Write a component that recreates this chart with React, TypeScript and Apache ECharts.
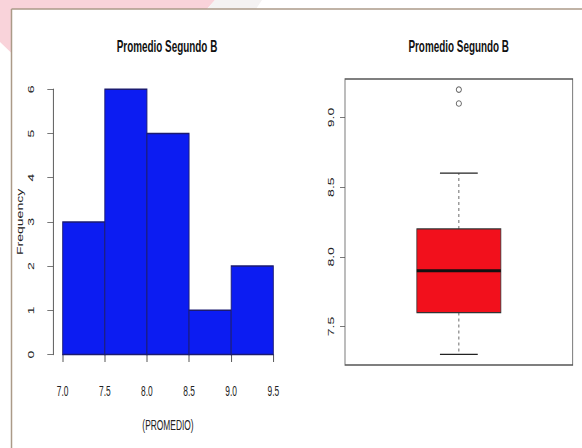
import React, { useEffect, useRef } from "react";
import * as echarts from "echarts";

// ---- data ----
const TITLE = "Promedio Segundo B";
const binEdges = [7.0, 7.5, 8.0, 8.5, 9.0, 9.5];
const frequencies = [3, 6, 5, 1, 2];
const histXLabel = "(PROMEDIO)";
const histYLabel = "Frequency";
const boxCategory = ["PROMEDIO"];
// min whisker, Q1, median, Q3, max whisker
const boxStats = [7.3, 7.6, 7.9, 8.2, 8.6];
const outliers = [9.1, 9.2];
const boxTicks = [7.5, 8.0, 8.5, 9.0];

// the reference picture is horizontally compressed; draw wide, then squeeze
const SX = 0.6;
const W = 582 / SX;
const H = 448;
const X = (v: number) => v / SX;
const FONT = "'Liberation Sans', Arial, Helvetica, sans-serif";

export default function App() {
  const ref = useRef<HTMLDivElement>(null);

  useEffect(() => {
    const chart = echarts.init(ref.current!, null, { renderer: "svg" });

    const histData = frequencies.map((f, i) => [binEdges[i], binEdges[i + 1], f]);
    const boxData = [[0, ...boxStats]];
    const outlierData = outliers.map((v) => [0, v]);

    const dMin = Math.min(boxStats[0], ...outliers);
    const dMax = Math.max(boxStats[4], ...outliers);
    const pad = 0.04 * (dMax - dMin);

    const titleStyle = { fontSize: 16.5, fontWeight: "bold", color: "#111", fontFamily: FONT };
    const labelColor = "#222";

    chart.setOption({
      animation: false,
      backgroundColor: "#ffffff",
      textStyle: { fontFamily: FONT },
      title: [
        { text: TITLE, left: X(167), top: 38, textAlign: "center", textVerticalAlign: "top", padding: 0, textStyle: titleStyle },
        { text: TITLE, left: X(458.7), top: 38, textAlign: "center", textVerticalAlign: "top", padding: 0, textStyle: titleStyle },
      ],
      grid: [
        { left: X(62.7), top: 89.3, width: X(273.3) - X(62.7), height: 354.5 - 89.3 },
        { left: X(345), top: 79, width: X(572.7) - X(345), height: 286, show: true, borderColor: "#555", borderWidth: 1.3, backgroundColor: "transparent" },
      ],
      xAxis: [
        {
          gridIndex: 0, type: "value", min: 7, max: 9.5, interval: 0.5, position: "bottom", offset: 10.7,
          axisLine: { show: true, lineStyle: { color: "#444", width: 1 } },
          axisTick: { show: true, length: 7.5, lineStyle: { color: "#444", width: 1.5 } },
          axisLabel: { fontSize: 14, color: labelColor, margin: 19, formatter: (v: number) => v.toFixed(1) },
          splitLine: { show: false },
          name: histXLabel, nameLocation: "middle", nameGap: 53,
          nameTextStyle: { fontSize: 14, color: labelColor },
        },
        { gridIndex: 1, type: "category", data: boxCategory, show: false },
      ],
      yAxis: [
        {
          gridIndex: 0, type: "value", min: 0, max: 6, interval: 1, offset: X(62.7) - X(53.3),
          axisLine: { show: true, lineStyle: { color: "#555", width: 1.6 } },
          axisTick: { show: true, length: 10, lineStyle: { color: "#555", width: 1 } },
          axisLabel: { rotate: 90, margin: 30, fontSize: 14, color: labelColor },
          splitLine: { show: false },
          name: histYLabel, nameLocation: "middle", nameRotate: 90, nameGap: 49,
          nameTextStyle: { fontSize: 14, color: labelColor },
        },
        {
          gridIndex: 1, type: "value", min: dMin - pad, max: dMax + pad,
          axisLine: { show: false },
          axisTick: { show: true, length: 8.3, customValues: boxTicks, lineStyle: { color: "#555", width: 1 } },
          axisLabel: { customValues: boxTicks, rotate: 90, margin: 15.7, fontSize: 14, color: labelColor, formatter: (v: number) => v.toFixed(1) },
          splitLine: { show: false },
        },
      ],
      series: [
        {
          type: "custom",
          xAxisIndex: 0, yAxisIndex: 0,
          data: histData,
          encode: { x: [0, 1], y: 2 },
          renderItem: (_p: any, api: any) => {
            const p0 = api.coord([api.value(0), 0]);
            const p1 = api.coord([api.value(1), api.value(2)]);
            return {
              type: "rect",
              shape: { x: p0[0], y: p1[1], width: p1[0] - p0[0], height: p0[1] - p1[1] },
              style: { fill: "#0c1cf2", stroke: "#1b1b70", lineWidth: 1.5 },
            };
          },
        },
        {
          type: "custom",
          xAxisIndex: 1, yAxisIndex: 1,
          data: boxData,
          encode: { x: 0, y: [1, 2, 3, 4, 5] },
          renderItem: (_p: any, api: any) => {
            const c = api.value(0);
            const pMin = api.coord([c, api.value(1)]);
            const x = pMin[0];
            const yMin = pMin[1];
            const yQ1 = api.coord([c, api.value(2)])[1];
            const yMed = api.coord([c, api.value(3)])[1];
            const yQ3 = api.coord([c, api.value(4)])[1];
            const yMax = api.coord([c, api.value(5)])[1];
            const band = api.size([1, 0])[0];
            const bw = band * 0.369;
            const cw = bw * 0.45;
            const dash = { stroke: "#666", lineWidth: 1.6, lineDash: [3, 3] };
            const cap = { stroke: "#222", lineWidth: 1.2 };
            return {
              type: "group",
              children: [
                { type: "line", shape: { x1: x, y1: yQ3, x2: x, y2: yMax }, style: dash },
                { type: "line", shape: { x1: x, y1: yQ1, x2: x, y2: yMin }, style: dash },
                { type: "line", shape: { x1: x - cw / 2, y1: yMax, x2: x + cw / 2, y2: yMax }, style: cap },
                { type: "line", shape: { x1: x - cw / 2, y1: yMin, x2: x + cw / 2, y2: yMin }, style: cap },
                { type: "rect", shape: { x: x - bw / 2, y: yQ3, width: bw, height: yQ1 - yQ3 }, style: { fill: "#f2101c", stroke: "#333", lineWidth: 1.3 } },
                { type: "line", shape: { x1: x - bw / 2, y1: yMed, x2: x + bw / 2, y2: yMed }, style: { stroke: "#111", lineWidth: 3 } },
              ],
            };
          },
        },
        {
          type: "scatter",
          xAxisIndex: 1, yAxisIndex: 1,
          data: outlierData,
          symbol: "circle",
          symbolSize: [8.5, 5.5],
          itemStyle: { color: "transparent", borderColor: "#444", borderWidth: 1.3 },
        },
      ],
      graphic: [
        { type: "polygon", silent: true, shape: { points: [[0, 0], [X(215), 0], [X(207), 9], [X(11.5), 9], [X(11.5), 53], [0, 42]] }, style: { fill: "#f9d3da" } },
        { type: "polygon", silent: true, shape: { points: [[X(215), 0], [X(262), 0], [X(256), 9], [X(207), 9]] }, style: { fill: "#f4f2f2" } },
        { type: "line", silent: true, shape: { x1: X(11.5), y1: 9, x2: W, y2: 9 }, style: { stroke: "#ab9a88", lineWidth: 1.5 } },
        { type: "line", silent: true, shape: { x1: X(11.5), y1: 9, x2: X(11.5), y2: H }, style: { stroke: "#ab9a88", lineWidth: 2.5 } },
      ],
    });

    return () => chart.dispose();
  }, []);

  return (
    <div style={{ position: "absolute", left: 0, top: 0, width: 582, height: 448, overflow: "hidden", background: "#fff" }}>
      <div ref={ref} style={{ width: W, height: H, transform: `scaleX(${SX})`, transformOrigin: "0 0" }} />
    </div>
  );
}
